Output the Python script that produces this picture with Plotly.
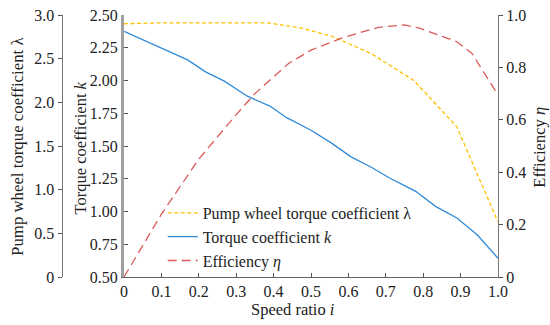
import plotly.graph_objects as go

# ---- data ----
lam_x = [0, 0.1, 0.2, 0.3, 0.385, 0.475, 0.56, 0.66, 0.775, 0.89, 1.0]
lam_y = [2.90, 2.91, 2.91, 2.91, 2.91, 2.85, 2.75, 2.56, 2.25, 1.72, 0.63]

k_x = [0, 0.17, 0.218, 0.267, 0.33, 0.39, 0.435, 0.50, 0.554, 0.607, 0.66, 0.71, 0.78, 0.833, 0.89, 0.945, 1.0]
k_y = [2.375, 2.157, 2.066, 1.997, 1.88, 1.805, 1.716, 1.62, 1.524, 1.417, 1.34, 1.256, 1.154, 1.039, 0.95, 0.82, 0.643]

eta_x = [0, 0.1, 0.2, 0.3, 0.35, 0.44, 0.5, 0.58, 0.68, 0.75, 0.79, 0.89, 0.93, 1.0]
eta_y = [0, 0.24, 0.45, 0.62, 0.70, 0.815, 0.866, 0.911, 0.953, 0.962, 0.95, 0.898, 0.854, 0.695]

x_ticks = [0, 0.1, 0.2, 0.3, 0.4, 0.5, 0.6, 0.7, 0.8, 0.9, 1.0]
x_ticktext = ["0", "0.1", "0.2", "0.3", "0.4", "0.5", "0.6", "0.7", "0.8", "0.9", "1.0"]
k_ticks = [0.50, 0.75, 1.00, 1.25, 1.50, 1.75, 2.00, 2.25, 2.50]
lam_ticks = [0, 0.5, 1.0, 1.5, 2.0, 2.5, 3.0]
lam_ticktext = ["0", "0.5", "1.0", "1.5", "2.0", "2.5", "3.0"]
eta_ticks = [0, 0.2, 0.4, 0.6, 0.8, 1.0]
eta_ticktext = ["0", "0.2", "0.4", "0.6", "0.8", "1.0"]

FONT = "Liberation Serif"
W, H = 550, 325
ML, MR, MT, MB = 0, 52, 15, 48
PW = W - ML - MR
PH = H - MT - MB
def px_x(p):
    return (p - ML) / PW
def px_y(p):
    return (H - MB - p) / PH

fig = go.Figure()
fig.add_trace(go.Scatter(x=lam_x, y=lam_y, yaxis="y2", mode="lines",
                         name="Pump wheel torque coefficient λ",
                         line=dict(color="#FFC000", width=1.3, dash="4px,2.5px")))
fig.add_trace(go.Scatter(x=k_x, y=k_y, yaxis="y", mode="lines",
                         name="Torque coefficient <i>k</i>",
                         line=dict(color="#2F8AD8", width=1.3)))
fig.add_trace(go.Scatter(x=eta_x, y=eta_y, yaxis="y3", mode="lines",
                         name="Efficiency <i>η</i>",
                         line=dict(color="#DB5A5A", width=1.3, dash="9px,5px")))

tickfont = dict(family=FONT, size=16, color="#222")
x0 = px_x(121)

fig.update_layout(
    width=W, height=H,
    margin=dict(l=ML, r=MR, t=MT, b=MB),
    paper_bgcolor="white", plot_bgcolor="white",
    font=dict(family=FONT, size=16, color="#222"),
    showlegend=True,
    legend=dict(x=px_x(160), y=px_y(196), xanchor="left", yanchor="top",
                bgcolor="rgba(0,0,0,0)", font=dict(family=FONT, size=16, color="#222"),
                tracegroupgap=0),
    xaxis=dict(domain=[x0, 1], range=[0, 1.0], tickvals=x_ticks, ticktext=x_ticktext,
               ticks="inside", ticklen=4, tickcolor="#555", showline=True,
               linecolor="#666", linewidth=1, showgrid=False, zeroline=False,
               tickfont=tickfont),
    yaxis=dict(range=[0.5, 2.5], tickvals=k_ticks, tickformat=".2f",
               ticks="inside", ticklen=4, tickcolor="#555", showline=True,
               linecolor="#A0A0A0", linewidth=3, showgrid=False, zeroline=False,
               tickfont=tickfont),
    yaxis2=dict(range=[0, 3.0], tickvals=lam_ticks, ticktext=lam_ticktext,
                overlaying="y", anchor="free", position=px_x(58), side="left",
                ticks="outside", ticklen=4, tickcolor="#555", showline=True,
                linecolor="#777", linewidth=1, showgrid=False, zeroline=False,
                tickfont=tickfont),
    yaxis3=dict(range=[0, 1.0], tickvals=eta_ticks, ticktext=eta_ticktext,
                overlaying="y", anchor="x", side="right",
                ticks="outside", ticklen=4, tickcolor="#555", showline=True,
                linecolor="#777", linewidth=1, showgrid=False, zeroline=False,
                tickfont=tickfont),
)

ann = dict(xref="paper", yref="paper", showarrow=False)
fig.add_annotation(text="Pump wheel torque coefficient λ", x=px_x(13), y=px_y(146),
                   textangle=-90, xanchor="center", yanchor="middle",
                   font=dict(family=FONT, size=16.8, color="#222"), **ann)
fig.add_annotation(text="Torque coefficient <i>k</i>", x=px_x(77), y=px_y(148),
                   textangle=-90, xanchor="center", yanchor="middle",
                   font=dict(family=FONT, size=16.5, color="#222"), **ann)
fig.add_annotation(text="Efficiency <i>η</i>", x=px_x(539), y=px_y(147),
                   textangle=-90, xanchor="center", yanchor="middle",
                   font=dict(family=FONT, size=16.5, color="#222"), **ann)
fig.add_annotation(text="Speed ratio <i>i</i>", x=px_x(291), y=px_y(309),
                   xanchor="center", yanchor="middle",
                   font=dict(family=FONT, size=16.5, color="#222"), **ann)

fig.write_html("out.html", config={"displayModeBar": False},
               post_script="document.body.style.margin='0';")
